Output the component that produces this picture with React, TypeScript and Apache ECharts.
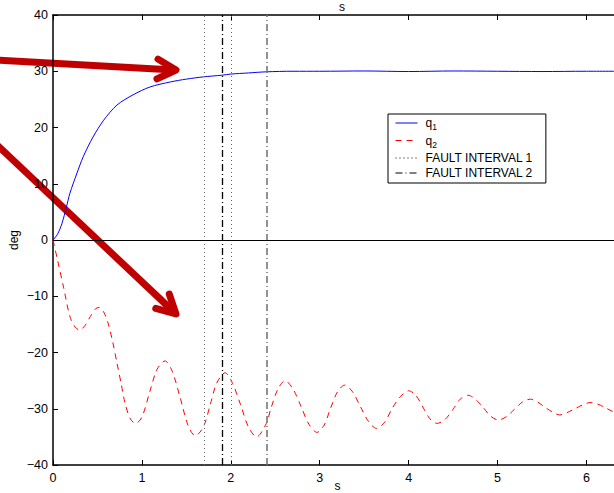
import React, { useEffect, useRef } from "react";
import * as echarts from "echarts";

// Joint angle responses (deg) against time (s)
const Q1_T = [0, 0.05, 0.1, 0.15, 0.19, 0.27, 0.34, 0.45, 0.57, 0.72, 0.9, 1.09, 1.32, 1.5, 1.69, 1.9, 2.0, 2.2, 2.4, 2.7, 3.0, 3.5, 4.0, 4.5, 5.0, 5.5, 6.0, 6.4];
const Q1_V = [0, 1.0, 2.9, 5.8, 8.3, 11.9, 14.8, 18.3, 21.3, 24.0, 25.8, 27.2, 28.1, 28.6, 29.0, 29.3, 29.5, 29.7, 29.9, 30.0, 30.0, 30.05, 29.95, 30.05, 30.0, 29.95, 30.0, 30.0];

const Q2_T = [0, 0.05, 0.12, 0.19, 0.25, 0.3, 0.36, 0.42, 0.48, 0.52, 0.57, 0.62, 0.67, 0.72, 0.77, 0.81, 0.87, 0.93, 1.0, 1.09, 1.17, 1.26, 1.34, 1.43, 1.52, 1.6, 1.69, 1.77, 1.84, 1.935, 2.02, 2.11, 2.2, 2.29, 2.4, 2.45, 2.53, 2.61, 2.7, 2.79, 2.88, 2.97, 3.05, 3.12, 3.2, 3.28, 3.37, 3.46, 3.55, 3.64, 3.73, 3.82, 3.91, 4.0, 4.08, 4.16, 4.24, 4.32, 4.41, 4.5, 4.58, 4.67, 4.75, 4.84, 4.92, 5.01, 5.1, 5.19, 5.28, 5.37, 5.45, 5.53, 5.62, 5.7, 5.78, 5.87, 5.96, 6.04, 6.13, 6.21, 6.3, 6.4];
const Q2_V = [0, -3.5, -8.5, -13.6, -15.5, -16, -15.2, -13.6, -12.2, -12, -12.8, -14.8, -18, -21.9, -25.8, -29, -31.8, -32.6, -31.5, -26.9, -23, -21.5, -23.3, -28, -33, -34.8, -33.3, -29.2, -25.5, -23.6, -25.5, -29.3, -33.3, -35, -32.6, -30, -26.5, -25, -26.5, -29.6, -32.8, -34.2, -32.9, -30, -27, -25.8, -27, -29.7, -32.3, -33.5, -32.4, -29.8, -27.8, -26.8, -27.6, -29.7, -31.8, -32.6, -31.9, -30.1, -28.3, -27.6, -28.3, -29.8, -31.3, -32, -31.4, -30.1, -28.8, -28.3, -28.8, -29.7, -30.6, -31.1, -30.7, -30, -29.3, -28.9, -29.2, -29.8, -30.5, -31];

// Fault windows (s)
const FAULT_1 = [1.7, 2.0];
const FAULT_2 = [1.9, 2.4];

const X_RANGE = [0, 6.4];
const Y_RANGE = [-40, 40];

const FONT = "'Liberation Sans', Arial, Helvetica, sans-serif";
const ARROW_RED = "#c00000";
const BLUE = "#0000ff";
const RED = "#ff0000";
const DOT = [1, 3];
const DASH = [6, 5];
const DASH_DOT = [7, 3, 1, 3];

function pairs(t: number[], v: number[]) {
  return t.map((x, i) => [x, v[i]]);
}

// Thick annotation arrow: shaft plus an open chevron head
function arrow(x1: number, y1: number, x2: number, y2: number) {
  const len = Math.hypot(x2 - x1, y2 - y1);
  const ux = (x2 - x1) / len;
  const uy = (y2 - y1) / len;
  const head = 21;
  const ang = (28 * Math.PI) / 180;
  // rotate the reversed direction by +/- ang to get the wing ends
  const wing = (s: number) => {
    const c = Math.cos(s * ang);
    const si = Math.sin(s * ang);
    const bx = -ux;
    const by = -uy;
    return [x2 + (bx * c - by * si) * head, y2 + (bx * si + by * c) * head];
  };
  return {
    type: "group",
    z: 100,
    silent: true,
    children: [
      {
        type: "line",
        shape: { x1, y1, x2: x2 - ux * 2, y2: y2 - uy * 2 },
        style: { stroke: ARROW_RED, lineWidth: 7, lineCap: "butt" },
      },
      {
        type: "polyline",
        shape: { points: [wing(1), [x2, y2], wing(-1)] },
        style: { stroke: ARROW_RED, lineWidth: 7, lineCap: "round", lineJoin: "round", fill: null },
      },
    ],
  };
}

const minus = (v: number) => String(v).replace("-", "\u2212");

export default function App() {
  const ref = useRef<HTMLDivElement>(null);

  useEffect(() => {
    if (!ref.current) return;
    const chart = echarts.init(ref.current, null, { renderer: "svg" });

    const axisLine = { show: true, onZero: false, lineStyle: { color: "#000", width: 1.5 } };
    const tick = { show: true, inside: true, length: 5, lineStyle: { color: "#000", width: 1 } };
    const legendItem = (name: string, color: string, type: any) => ({
      name,
      itemStyle: { opacity: 0, borderWidth: 0 },
      lineStyle: { color, width: 1, type, opacity: 1 },
    });

    chart.setOption({
      animation: false,
      backgroundColor: "#fff",
      title: {
        text: "s",
        left: 337,
        top: -4,
        textAlign: "center",
        textStyle: { fontFamily: FONT, fontSize: 12, fontWeight: "normal", color: "#000" },
      },
      grid: {
        left: 53,
        top: 15,
        width: 569,
        height: 450,
        containLabel: false,
        outerBoundsMode: "none",
      },
      legend: {
        orient: "vertical",
        left: 388,
        top: 114,
        data: [
          legendItem("q1", BLUE, "solid"),
          legendItem("q2", RED, DASH),
          legendItem("FAULT INTERVAL 1", "#000", DOT),
          legendItem("FAULT INTERVAL 2", "#000", DASH_DOT),
        ],
        itemWidth: 22,
        itemHeight: 12,
        itemGap: 3,
        padding: [3, 13, 4, 7],
        borderColor: "#000",
        borderWidth: 1,
        backgroundColor: "#fff",
        selectedMode: false,
        itemStyle: { opacity: 0, borderWidth: 0 },
        textStyle: {
          fontFamily: FONT,
          fontSize: 12,
          color: "#000",
          padding: [0, 0, 0, 3],
          rich: {
            sub: { fontFamily: FONT, fontSize: 8.5, color: "#000", padding: [8, 0, 0, 0] },
          },
        },
        formatter: (name: string) => (/^q\d$/.test(name) ? `q{sub|${name.slice(1)}}` : name),
      },
      xAxis: [
        {
          type: "value",
          min: X_RANGE[0],
          max: X_RANGE[1],
          interval: 1,
          position: "bottom",
          name: "s",
          nameLocation: "middle",
          nameGap: 15,
          nameMoveOverlap: false,
          nameTextStyle: { fontFamily: FONT, fontSize: 12, color: "#000" },
          axisLine,
          axisTick: tick,
          axisLabel: {
            fontFamily: FONT,
            fontSize: 12.5,
            color: "#000",
            margin: 6,
            showMaxLabel: false,
            formatter: minus,
          },
          splitLine: { show: false },
        },
        {
          type: "value",
          min: X_RANGE[0],
          max: X_RANGE[1],
          interval: 1,
          position: "top",
          axisLine,
          axisTick: tick,
          axisLabel: { show: false },
          splitLine: { show: false },
        },
      ],
      yAxis: {
        type: "value",
        min: Y_RANGE[0],
        max: Y_RANGE[1],
        interval: 10,
        name: "deg",
        nameLocation: "middle",
        nameGap: 33,
        nameRotate: 90,
        nameMoveOverlap: false,
        nameTextStyle: { fontFamily: FONT, fontSize: 12, color: "#000" },
        axisLine,
        axisTick: tick,
        axisLabel: { fontFamily: FONT, fontSize: 12.5, color: "#000", margin: 5, formatter: minus },
        splitLine: { show: false },
      },
      series: [
        {
          name: "FAULT INTERVAL 1",
          type: "line",
          data: [],
          symbol: "none",
          z: 1,
          lineStyle: { color: "#000", width: 1, type: DOT },
          itemStyle: { color: "#000" },
          markLine: {
            silent: true,
            symbol: ["none", "none"],
            label: { show: false },
            lineStyle: { color: "#666", width: 1, type: DOT },
            data: FAULT_1.map((x) => ({ xAxis: x })),
          },
        },
        {
          name: "FAULT INTERVAL 2",
          type: "line",
          data: [],
          symbol: "none",
          z: 1,
          lineStyle: { color: "#000", width: 1, type: DASH_DOT },
          itemStyle: { color: "#000" },
          markLine: {
            silent: true,
            symbol: ["none", "none"],
            label: { show: false },
            data: FAULT_2.map((x, i) => ({
              xAxis: x,
              lineStyle: { color: i === 0 ? "#000" : "#777", width: i === 0 ? 1.3 : 1.6, type: DASH_DOT },
            })),
          },
        },
        {
          name: "q1",
          type: "line",
          data: pairs(Q1_T, Q1_V),
          symbol: "none",
          smooth: 0.3,
          z: 3,
          lineStyle: { color: BLUE, width: 1 },
          itemStyle: { color: BLUE },
          markLine: {
            silent: true,
            symbol: ["none", "none"],
            label: { show: false },
            lineStyle: { color: "#000", width: 1, type: "solid" },
            data: [{ yAxis: 0 }],
          },
        },
        {
          name: "q2",
          type: "line",
          data: pairs(Q2_T, Q2_V),
          symbol: "none",
          smooth: 0.3,
          z: 3,
          lineStyle: { color: RED, width: 1, type: DASH },
          itemStyle: { color: RED },
        },
      ],
      graphic: [arrow(-4, 60, 176, 70), arrow(-4, 144, 176, 314)],
    });

    return () => chart.dispose();
  }, []);

  return (
    <div
      ref={ref}
      style={{ position: "absolute", left: 0, top: 0, width: 614, height: 493 }}
    />
  );
}
